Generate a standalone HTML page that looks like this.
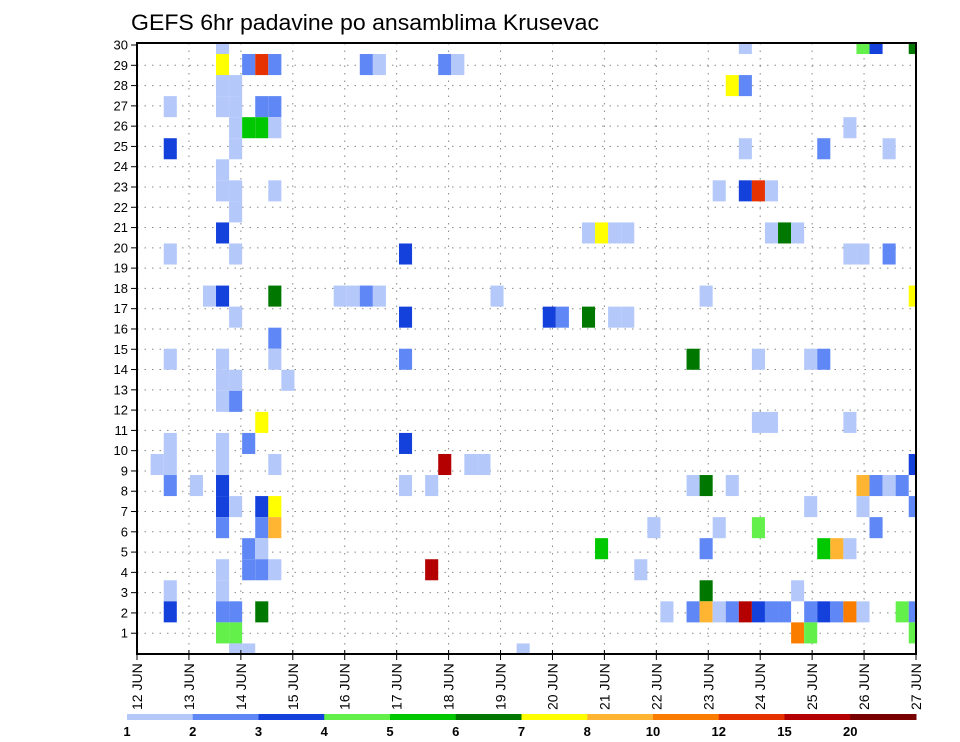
<!DOCTYPE html>
<html><head><meta charset="utf-8"><style>
html,body{margin:0;padding:0;background:#fff;}
svg{display:block;font-family:"Liberation Sans",sans-serif;}
</style></head><body>
<svg id="chart" width="960" height="742" viewBox="0 0 960 742" xmlns="http://www.w3.org/2000/svg">
<text x="131" y="30" font-size="22" textLength="468" lengthAdjust="spacingAndGlyphs">GEFS 6hr padavine po ansamblima Krusevac</text>
<g id="grid"></g>
<g id="cells"></g>
<rect x="137" y="43" width="779" height="611" fill="none" stroke="#000" stroke-width="2"/>
<g id="yaxis"></g>
<g id="xaxis"></g>
<g id="legend"></g>
</svg>
<script>
const memberTicks = [1,2,3,4,5,6,7,8,9,10,11,12,13,14,15,16,17,18,19,20,21,22,23,24,25,26,27,28,29,30];
const dayLabels = ["12 JUN","13 JUN","14 JUN","15 JUN","16 JUN","17 JUN","18 JUN","19 JUN","20 JUN","21 JUN","22 JUN","23 JUN","24 JUN","25 JUN","26 JUN","27 JUN"];
const levels = [1,2,3,4,5,6,7,8,10,12,15,20];
const levelColors = ["#b4c8fa","#5f87f5","#1441dc","#64f04b","#00c800","#007800","#ffff00","#ffb432","#fa7d00","#e63200","#b40000","#780000"];
// members, top (30) to bottom (1)
const members = [30,29,28,27,26,25,24,23,22,21,20,19,18,17,16,15,14,13,12,11,10,9,8,7,6,5,4,3,2,1];
const stepsByMember = [
[6,46,55,56,59],
[6,8,9,10,17,18,23,24],
[6,7,45,46],
[2,6,7,9,10],
[7,8,9,10,54],
[2,7,46,52,57],
[6],
[6,7,10,44,46,47,48],
[7],
[6,34,35,36,37,48,49,50],
[2,7,20,54,55,57],
[],
[5,6,10,15,16,17,18,27,43,59],
[7,20,31,32,34,36,37],
[10],
[2,6,10,20,42,47,51,52],
[6,7,11],
[6,7],
[9,47,48,54],
[2,6,8,20],
[1,2,6,10,23,25,26,59],
[2,4,6,20,22,42,43,45,55,56,57,58],
[6,7,9,10,51,55,59],
[6,9,10,39,44,47,56],
[8,9,35,43,52,53,54],
[6,8,9,10,22,38],
[2,6,43,50],
[2,6,7,9,40,42,43,44,45,46,47,48,49,51,52,53,54,55,58,59],
[6,7,50,51,59],
[7,8,29]
];
const valuesByMember = [
[1.5,1.5,4.5,3.5,6.5],
[7.5,2.5,13,2.5,2.5,1.5,2.5,1.5],
[1.5,1.5,7.5,2.5],
[1.5,1.5,1.5,2.5,2.5],
[1.5,5.5,5.5,1.5,1.5],
[3.5,1.5,1.5,2.5,1.5],
[1.5],
[1.5,1.5,1.5,1.5,3.5,13,1.5],
[1.5],
[3.5,1.5,7.5,1.5,1.5,1.5,6.5,1.5],
[1.5,1.5,3.5,1.5,1.5,2.5],
[],
[1.5,3.5,6.5,1.5,1.5,2.5,1.5,1.5,1.5,7.5],
[1.5,3.5,3.5,2.5,6.5,1.5,1.5],
[2.5],
[1.5,1.5,1.5,2.5,6.5,1.5,1.5,2.5],
[1.5,1.5,1.5],
[1.5,2.5],
[7.5,1.5,1.5,1.5],
[1.5,1.5,2.5,3.5],
[1.5,1.5,1.5,1.5,17,1.5,1.5,3.5],
[2.5,1.5,3.5,1.5,1.5,1.5,6.5,1.5,9,2.5,1.5,2.5],
[3.5,1.5,3.5,7.5,1.5,1.5,2.5],
[2.5,2.5,9,1.5,1.5,4.5,2.5],
[2.5,1.5,5.5,2.5,5.5,9,1.5],
[1.5,2.5,2.5,1.5,17,1.5],
[1.5,1.5,6.5,1.5],
[3.5,2.5,2.5,6.5,1.5,2.5,9,1.5,2.5,17,3.5,2.5,2.5,2.5,3.5,2.5,11,1.5,4.5,2.5],
[4.5,4.5,11,4.5,4.5],
[1.5,1.5,1.5]
];

const NS = "http://www.w3.org/2000/svg";
const PL=137, PR=916, PT=43, PB=654;
function xStep(s){ return 137.6 + s*13.07; }          // cell grid (6h steps)
function yMember(v){ return 43.5 + (30 - v)*21.05; }   // cell grid (members)
function xDay(d){ return PL + d*(PR-PL)/15; }           // axis ticks
function yTick(k){ return PB - 0.5 - k*(PB-PT-1.5)/30.05; }
function colorFor(v){ let i=0; for(let k=0;k<levels.length;k++){ if(v>=levels[k]) i=k; } return levelColors[i]; }
function mk(tag, attrs, parent){ const e=document.createElementNS(NS,tag); for(const k in attrs) e.setAttribute(k, attrs[k]); parent.appendChild(e); return e; }

// grid
const grid = document.getElementById('grid');
for (let k=1;k<=29;k++){
  const y=yTick(k);
  const l=mk('line',{x1:PL,x2:PR,y1:y,y2:y,stroke:'#888','stroke-width':1,'stroke-dasharray':'1.5 6'},grid);
  
  
}
for (let d=1; d<15; d++){
  const x=xDay(d);
  const l=mk('line',{x1:x,x2:x,y1:PT,y2:PB,stroke:'#888','stroke-width':1,'stroke-dasharray':'1.5 6'},grid);
  
  
}

// cells
const cellsG = document.getElementById('cells');
const clip = mk('clipPath',{id:'plotclip'},document.getElementById('chart'));
mk('rect',{x:PL,y:PT,width:PR-PL,height:PB-PT},clip);
cellsG.setAttribute('clip-path','url(#plotclip)');
members.forEach((m, i) => {
  stepsByMember[i].forEach((s, j) => {
    const v = valuesByMember[i][j];
    const x0 = xStep(s), x1 = xStep(s+1);
    const y0 = yMember(m+0.5), y1 = yMember(m-0.5);
    const r = mk('rect',{x:x0,y:y0,width:x1-x0,height:y1-y0,fill:colorFor(v)},cellsG);
    
    
  });
});

// y axis
const ya = document.getElementById('yaxis');
memberTicks.forEach(k => {
  const y=yTick(k);
  const t=mk('line',{x1:PL-6,x2:PL,y1:y,y2:y,stroke:'#000','stroke-width':1},ya);
  
  
  const tx=mk('text',{x:PL-9,y:y+4.5,'font-size':13,'text-anchor':'end'},ya);
  tx.textContent=String(k);
  
  
});

// x axis
const xa = document.getElementById('xaxis');
dayLabels.forEach((lab,d) => {
  const x=xDay(d);
  const t=mk('line',{x1:x,x2:x,y1:PB-4,y2:PB+6,stroke:'#000','stroke-width':1},xa);
  
  
  const tx=mk('text',{x:0,y:0,'font-size':14,transform:'translate('+(x+5)+',710) rotate(-90)'},xa);
  tx.textContent=lab;
  
  
});

// colorbar
const lg = document.getElementById('legend');
const cbL=127, cbR=916, segW=(cbR-cbL)/levels.length;
levels.forEach((lv,i) => {
  const r=mk('rect',{x:cbL+i*segW,y:714,width:segW+0.5,height:6,fill:levelColors[i]},lg);
  
  
  const tx=mk('text',{x:cbL+i*segW,y:736,'font-size':13,'font-weight':'bold','text-anchor':'middle'},lg);
  tx.textContent=String(lv);
  
  
});
</script>
</body></html>
